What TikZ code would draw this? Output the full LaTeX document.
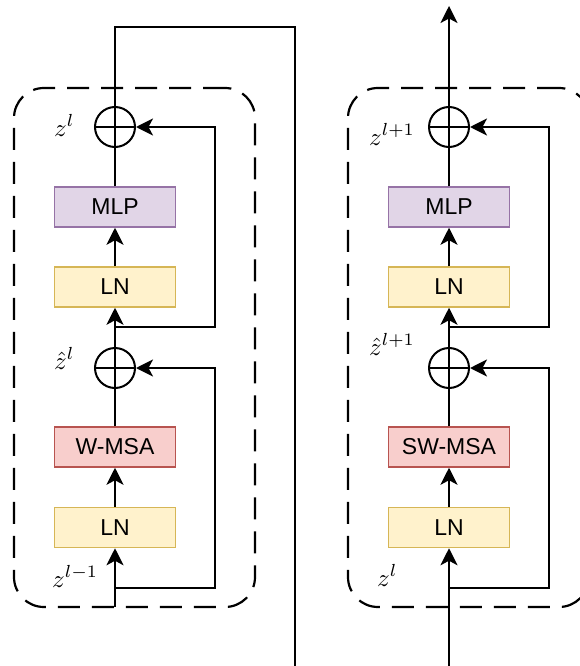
\documentclass[tikz,border=0pt]{standalone}
\usepackage{fontspec}
\setsansfont{Liberation Sans}
\usetikzlibrary{arrows.meta}
\definecolor{lnfill}{HTML}{FFF2CC}\definecolor{lnline}{HTML}{D6B656}
\definecolor{mlpfill}{HTML}{E1D5E7}\definecolor{mlpline}{HTML}{9673A6}
\definecolor{msafill}{HTML}{F8CECC}\definecolor{msaline}{HTML}{B85450}
\newcommand{\biglab}[1]{\scalebox{2.5}{$#1$}}
\tikzset{
  blk/.style={draw, line width=1.5pt, minimum width=121pt, minimum height=40pt,
    inner sep=0pt, font=\sffamily\fontsize{23}{27}\selectfont},
  lnbox/.style={blk, fill=lnfill, draw=lnline},
  mlpbox/.style={blk, fill=mlpfill, draw=mlpline},
  msabox/.style={blk, fill=msafill, draw=msaline},
  sum/.style={circle, draw, line width=2pt, minimum size=40pt, inner sep=0pt,
    path picture={\draw[line width=2pt]
      (path picture bounding box.north) -- (path picture bounding box.south)
      (path picture bounding box.west) -- (path picture bounding box.east);}},
  link/.style={line width=2.2pt},
  flow/.style={link, -{Stealth[length=17pt,width=17pt,inset=4.5pt]}},
  frame/.style={draw, line width=2.2pt, dash pattern=on 22pt off 12pt,
    rounded corners=30pt, minimum width=241pt, minimum height=519pt, inner sep=0pt},
  lab/.style={anchor=base west, inner sep=0pt},
}
\begin{document}
\begin{tikzpicture}[x=1pt,y=-1pt]
\useasboundingbox (0,0) rectangle (580,666);
\clip (0,0) rectangle (580,666);

% ---------- first block (W-MSA) ----------
\node[frame] (aframe) at (134.5,347.5) {};
\node[lnbox] (aln1) at (115,527.5) {LN};
\node[msabox] (amsa) at (115,447) {W-MSA};
\node[sum] (asum1) at (115,368) {};
\node[lnbox] (aln2) at (115,287) {LN};
\node[mlpbox] (amlp) at (115,207) {MLP};
\node[sum] (asum2) at (115,127) {};
\coordinate (ain) at (115,607);
\coordinate (abr1) at (115,588);
\coordinate (ar1) at (215,588);
\coordinate (abr2) at (115,327);
\coordinate (ar2) at (215,327);
\coordinate (atop) at (115,27);
\coordinate (aturn) at (295,27);
\coordinate (aout) at (295,666);

\draw[flow] (ain) -- (aln1);
\draw[flow] (aln1) -- (amsa);
\draw[link] (amsa) -- (asum1);
\draw[flow] (asum1) -- (aln2);
\draw[flow] (aln2) -- (amlp);
\draw[link] (amlp) -- (asum2);
\draw[flow] (abr1) -- (ar1) |- (asum1.east);
\draw[flow] (abr2) -- (ar2) |- (asum2.east);
\draw[link] (asum2) -- (atop) -- (aturn) -- (aout);

\node[lab] (alab1) at (54,136) {\biglab{z^{l}}};
\node[lab] (alab2) at (54,369) {\biglab{\hat{z}^{l}}};
\node[lab] (alab3) at (52,587) {\biglab{z^{l-1}}};

% ---------- second block (SW-MSA) ----------
\node[frame] (bframe) at (468.5,347.5) {};
\node[lnbox] (bln1) at (449,527.5) {LN};
\node[msabox] (bmsa) at (449,447) {SW-MSA};
\node[sum] (bsum1) at (449,368) {};
\node[lnbox] (bln2) at (449,287) {LN};
\node[mlpbox] (bmlp) at (449,207) {MLP};
\node[sum] (bsum2) at (449,127) {};
\coordinate (bin) at (449,666);
\coordinate (bbr1) at (449,588);
\coordinate (br1) at (549,588);
\coordinate (bbr2) at (449,327);
\coordinate (br2) at (549,327);
\coordinate (bout) at (449,6);

\draw[flow] (bin) -- (bln1);
\draw[flow] (bln1) -- (bmsa);
\draw[link] (bmsa) -- (bsum1);
\draw[flow] (bsum1) -- (bln2);
\draw[flow] (bln2) -- (bmlp);
\draw[link] (bmlp) -- (bsum2);
\draw[flow] (bbr1) -- (br1) |- (bsum1.east);
\draw[flow] (bbr2) -- (br2) |- (bsum2.east);
\draw[flow] (bsum2) -- (bout);

\node[lab] (blab1) at (369,145) {\biglab{z^{l+1}}};
\node[lab] (blab2) at (369,355) {\biglab{\hat{z}^{l+1}}};
\node[lab] (blab3) at (377,586) {\biglab{z^{l}}};
\end{tikzpicture}
\end{document}
